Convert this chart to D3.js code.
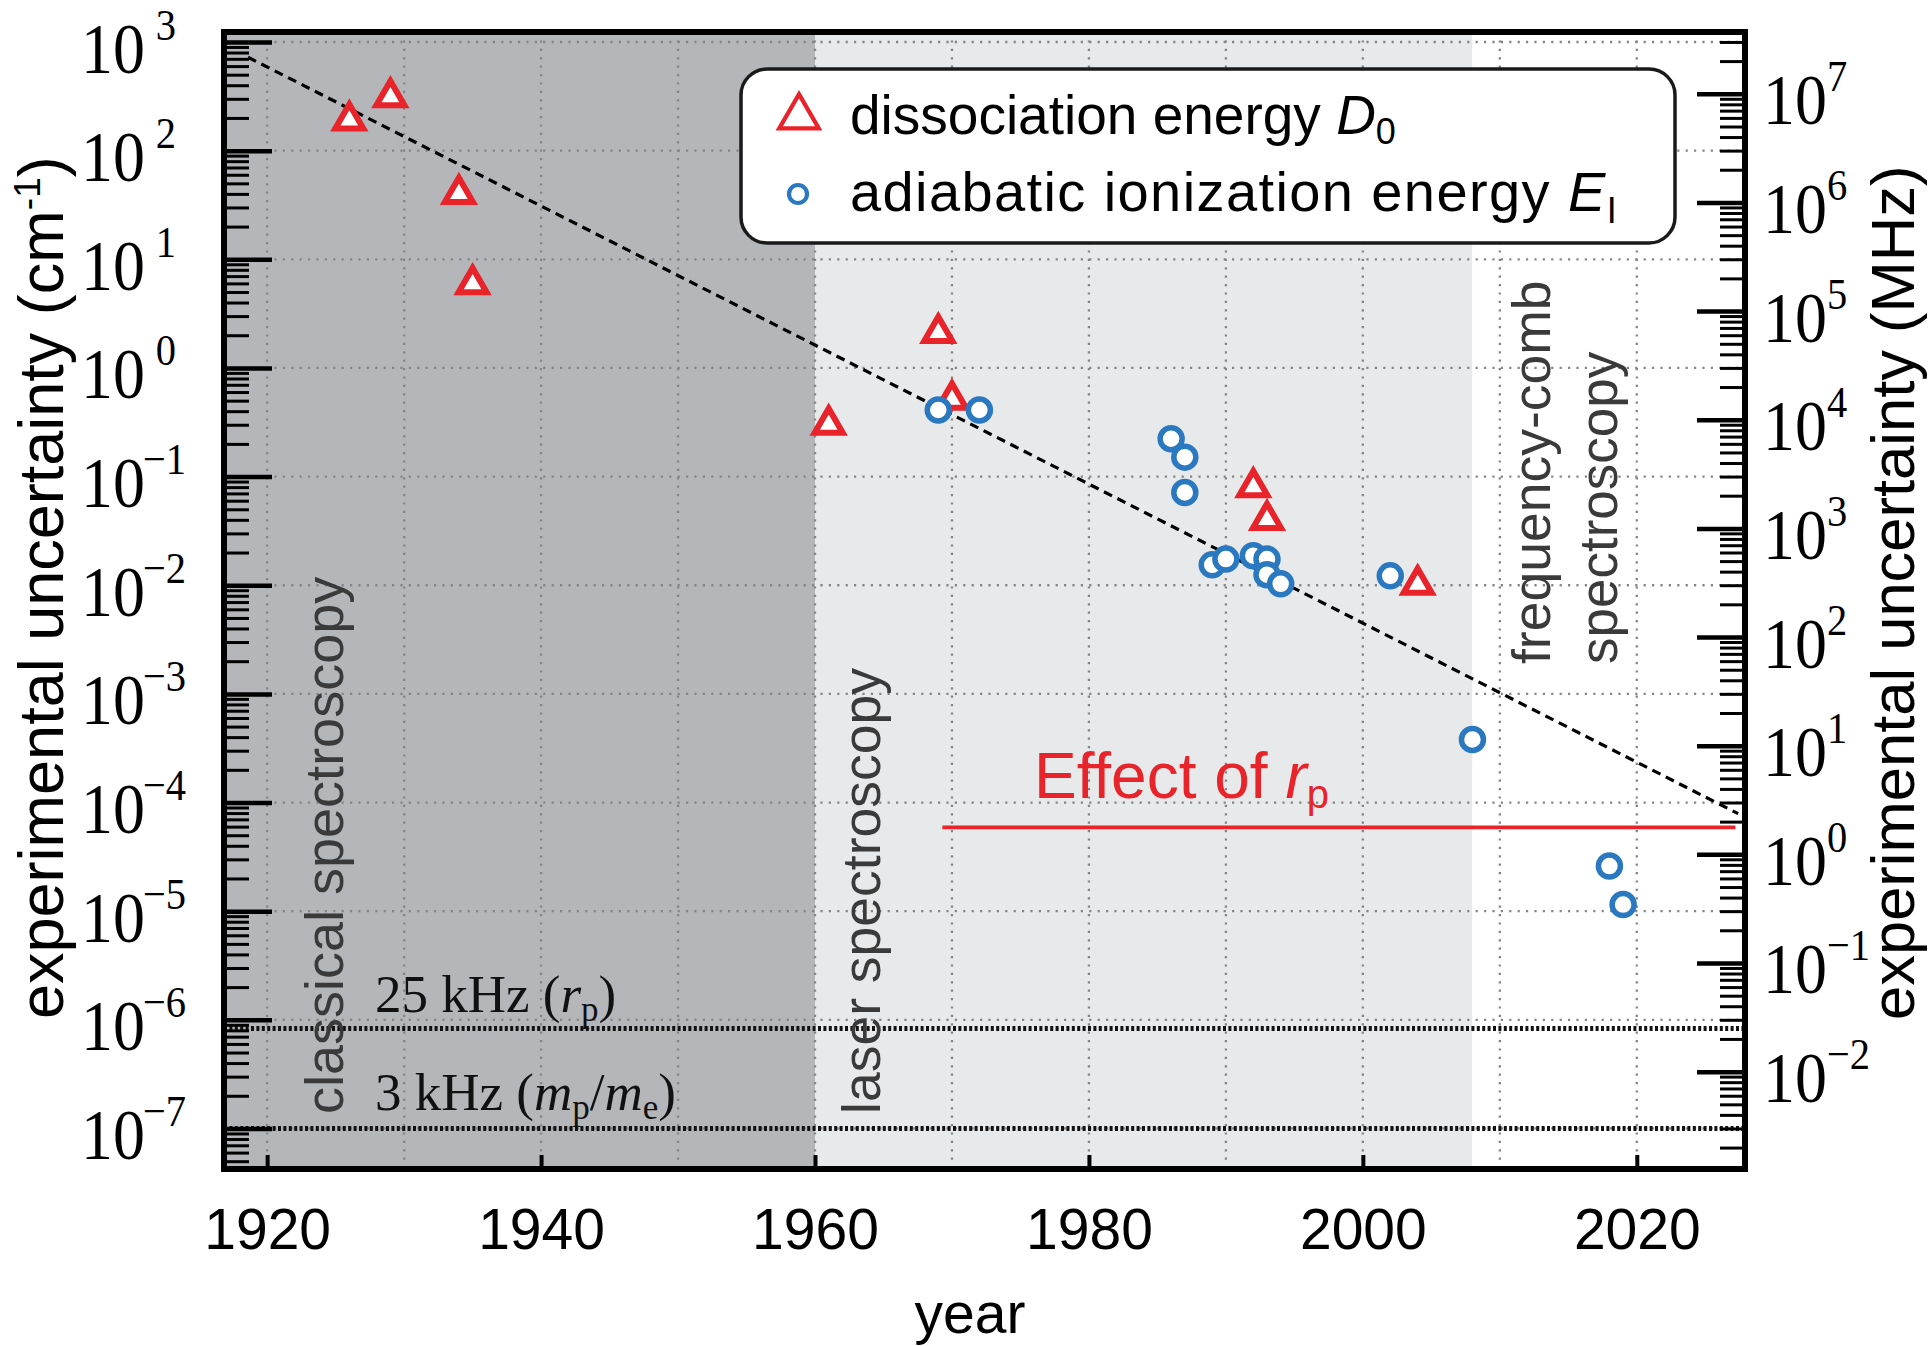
<!DOCTYPE html>
<html>
<head>
<meta charset="utf-8">
<script src="https://cdn.jsdelivr.net/npm/d3@7"></script>
<style>
  body { margin: 0; background: #fff; }
  svg { display: block; }
</style>
</head>
<body>
<svg id="chart" width="1930" height="1346"></svg>
<script>
// ---- data -------------------------------------------------------------
// dissociation energy D0 of H2: year of determination, uncertainty (cm^-1)
const d0Years = [1926, 1929, 1934, 1935, 1961, 1969, 1970, 1992, 1993, 2004];
const d0Unc   = [190, 310, 40, 5.9, 0.30, 2.1, 0.51, 0.080, 0.040, 0.0101];

// adiabatic ionization energy EI of H2: year, uncertainty (cm^-1)
const eiYears = [1969, 1972, 1986, 1987, 1987, 1989, 1990, 1992, 1993, 1993, 1994, 2002, 2008, 2018, 2019];
const eiUnc   = [0.41, 0.41, 0.223, 0.151, 0.0714, 0.0154, 0.0174, 0.0187, 0.0174, 0.0125, 0.0103, 0.0122, 3.8e-4, 2.6e-5, 1.15e-5];

// exponential improvement trend (end points)
const trendYears = [1918.6, 2027.4];
const trendUnc   = [724, 7.9e-5];

// "Effect of r_p" level (cm^-1) and its year span
const rpYears = [1969.3, 2027.2];
const rpUnc   = 5.9e-5;

// reference limits in kHz
const limitKHz    = [25, 3];
const limitLabels = ["25 kHz", "3 kHz"];

// spectroscopy eras
const eraNames  = ["classical", "laser", "comb"];
const eraStarts = [1900, 1960, 2008];
const eraEnds   = [1960, 2008, 2100];
const eraFills  = ["#b5b6b9", "#e8e9eb", "#ffffff"];

// axis ticks
const yearTicks   = [1920, 1940, 1960, 1980, 2000, 2020];
const yearGrid    = [1920, 1930, 1940, 1950, 1960, 1970, 1980, 1990, 2000, 2010, 2020];
const cmExponents  = [-7, -6, -5, -4, -3, -2, -1, 0, 1, 2, 3];
const mhzExponents = [-2, -1, 0, 1, 2, 3, 4, 5, 6, 7];

// ---- setup ------------------------------------------------------------
const CM_TO_MHZ = 29979.2458;
const SANS  = "'Liberation Sans', Arial, Helvetica, sans-serif";
const SERIF = "'Liberation Serif', 'Times New Roman', serif";
const RED  = "#e8232a";
const BLUE = "#2a78c0";
const TXT  = "#3a3a3a";

const plot = { left: 224, right: 1745, top: 32, bottom: 1169 };

const svg = d3.select("#chart");

const x = d3.scaleLinear().domain([1916.85, 2027.9]).range([plot.left, plot.right]);
const y = d3.scaleLog().domain([Math.pow(10, -7.373), Math.pow(10, 3.092)]).range([plot.bottom, plot.top]);
const y2 = d3.scaleLog().domain(y.domain().map(v => v * CM_TO_MHZ)).range([plot.bottom, plot.top]);

svg.append("defs").append("clipPath").attr("id", "plotClip")
  .append("rect")
  .attr("x", plot.left).attr("y", plot.top)
  .attr("width", plot.right - plot.left).attr("height", plot.bottom - plot.top);

const inner = svg.append("g").attr("clip-path", "url(#plotClip)");

// era shading
inner.selectAll("rect.era")
  .data(eraNames.map((n, i) => ({ n, s: eraStarts[i], e: eraEnds[i], f: eraFills[i] })))
  .join("rect")
  .attr("class", "era")
  .attr("x", d => x(d.s))
  .attr("width", d => x(d.e) - x(d.s))
  .attr("y", plot.top).attr("height", plot.bottom - plot.top)
  .attr("fill", d => d.f);

// dotted grid
const gridStyle = g => g.attr("stroke", "#858585").attr("stroke-width", 2.3).attr("stroke-dasharray", "2.2,6.2").attr("fill", "none");
inner.append("g").call(gridStyle)
  .selectAll("line").data(yearGrid).join("line")
  .attr("x1", d => x(d)).attr("x2", d => x(d))
  .attr("y1", plot.top).attr("y2", plot.bottom);
inner.append("g").call(gridStyle)
  .selectAll("line").data(cmExponents.map(e => Math.pow(10, e))).join("line")
  .attr("x1", plot.left).attr("x2", plot.right)
  .attr("y1", d => y(d)).attr("y2", d => y(d));

// kHz limit lines
const limitCm = limitKHz.map(k => k / 1000 / CM_TO_MHZ);
inner.append("g")
  .selectAll("line").data(limitCm).join("line")
  .attr("x1", plot.left).attr("x2", plot.right)
  .attr("y1", d => y(d)).attr("y2", d => y(d))
  .attr("stroke", "#111").attr("stroke-width", 5).attr("stroke-dasharray", "3,2.4");

// trend line
const lineGen = d3.line().x(d => x(d[0])).y(d => y(d[1]));
inner.append("path")
  .datum(trendYears.map((t, i) => [t, trendUnc[i]]))
  .attr("d", lineGen)
  .attr("fill", "none").attr("stroke", "#000").attr("stroke-width", 3.2)
  .attr("stroke-dasharray", "9,6");

// effect of r_p
inner.append("path")
  .datum(rpYears.map(t => [t, rpUnc]))
  .attr("d", lineGen)
  .attr("fill", "none").attr("stroke", RED).attr("stroke-width", 3.7);

// data points
inner.append("g").selectAll("path")
  .data(d0Years.map((t, i) => [t, d0Unc[i]]))
  .join("path")
  .attr("transform", d => `translate(${x(d[0])},${y(d[1])})`)
  .attr("d", d3.symbol(d3.symbolTriangle, 340))
  .attr("fill", "#fff").attr("stroke", RED).attr("stroke-width", 6)
  .attr("stroke-linejoin", "miter");

inner.append("g").selectAll("circle")
  .data(eiYears.map((t, i) => [t, eiUnc[i]]))
  .join("circle")
  .attr("cx", d => x(d[0])).attr("cy", d => y(d[1])).attr("r", 11)
  .attr("fill", "#fff").attr("stroke", BLUE).attr("stroke-width", 5.5);

// ---- axes -------------------------------------------------------------
function minorValues(scale) {
  const [lo, hi] = scale.domain();
  const out = [];
  for (let k = Math.floor(Math.log10(lo)) - 1; k <= Math.ceil(Math.log10(hi)); k++) {
    for (let m = 2; m <= 9; m++) {
      const v = m * Math.pow(10, k);
      if (v >= lo && v <= hi) out.push(v);
    }
  }
  return out;
}
const expText = e => (e < 0 ? "\u2212" + Math.abs(e) : String(e));
const SQ = 0.9;        // horizontal squeeze of the serif power-of-ten labels
const BASE_DY = 30;    // baseline offset of "10" below the tick
const SUP_DY = -33;    // superscript raise

function tidyMajor(g) {
  g.select(".domain").remove();
  g.selectAll(".tick line").attr("stroke", "#000").attr("stroke-width", 4.5);
}
function serifText(sel) {
  return sel.attr("fill", "#000").attr("font-family", SERIF)
    .attr("transform", `scale(${SQ},1)`);
}
// right axis: "10" + exponent flowing left to right
function labelsFlow(g, pad) {
  g.selectAll(".tick text").each(function (d) {
    const t = serifText(d3.select(this));
    const e = Math.round(Math.log10(d));
    t.text(null).attr("font-size", 71).attr("x", pad / SQ).attr("dy", BASE_DY);
    t.append("tspan").text("10");
    t.append("tspan").attr("font-size", 45).attr("dy", SUP_DY).text(expText(e));
  });
}
// left axis: "10" in a fixed column, exponent right-aligned against the axis
function labelsColumn(g, baseStart, expEnd, posShift) {
  g.selectAll(".tick text").each(function (d) {
    const t = serifText(d3.select(this));
    const e = Math.round(Math.log10(d));
    t.text("10").attr("font-size", 71).attr("text-anchor", "start")
      .attr("x", baseStart / SQ).attr("dy", BASE_DY);
    serifText(d3.select(this.parentNode).append("text"))
      .attr("font-size", 45).attr("text-anchor", "end")
      .attr("x", (expEnd - (e >= 0 ? posShift : 0)) / SQ).attr("y", BASE_DY + SUP_DY)
      .text(expText(e));
  });
}
function styleMinor(g) {
  g.select(".domain").remove();
  g.selectAll(".tick line").attr("stroke", "#000").attr("stroke-width", 3);
}

// left axis (cm^-1)
svg.append("g").attr("transform", `translate(${plot.left},0)`)
  .call(d3.axisLeft(y).tickValues(minorValues(y)).tickSize(-25).tickFormat(""))
  .call(styleMinor);
svg.append("g").attr("transform", `translate(${plot.left},0)`)
  .call(d3.axisLeft(y).tickValues(cmExponents.map(e => Math.pow(10, e))).tickSize(-48).tickPadding(38))
  .call(tidyMajor)
  .call(g => labelsColumn(g, -143, -38, 10));

// right axis (MHz)
svg.append("g").attr("transform", `translate(${plot.right},0)`)
  .call(d3.axisRight(y2).tickValues(minorValues(y2)).tickSize(-25).tickFormat(""))
  .call(styleMinor);
svg.append("g").attr("transform", `translate(${plot.right},0)`)
  .call(d3.axisRight(y2).tickValues(mhzExponents.map(e => Math.pow(10, e))).tickSize(-48).tickPadding(18))
  .call(tidyMajor)
  .call(g => labelsFlow(g, 18));

// bottom axis (year)
svg.append("g").attr("transform", `translate(0,${plot.bottom})`)
  .call(d3.axisBottom(x).tickValues(yearTicks).tickSize(-14).tickPadding(40).tickFormat(d3.format("d")))
  .call(g => {
    g.select(".domain").remove();
    g.selectAll(".tick line").attr("stroke", "#000").attr("stroke-width", 4);
    g.selectAll(".tick text").attr("fill", "#000").attr("font-family", SANS).attr("font-size", 57);
  });

// frame
svg.append("rect")
  .attr("x", plot.left).attr("y", plot.top)
  .attr("width", plot.right - plot.left).attr("height", plot.bottom - plot.top)
  .attr("fill", "none").attr("stroke", "#000").attr("stroke-width", 6);

// ---- annotations ------------------------------------------------------
function vText(px, py, str, size, fill) {
  return svg.append("text")
    .attr("transform", `translate(${px},${py}) rotate(-90)`)
    .attr("font-family", SANS).attr("font-size", size).attr("fill", fill)
    .text(str);
}
vText(343, 1114, "classical spectroscopy", 54, TXT);
vText(880, 1114, "laser spectroscopy", 53.5, TXT);
vText(1550, 664, "frequency-comb", 53.5, TXT);
vText(1617, 664, "spectroscopy", 53, TXT);

// limit labels
const lim1 = svg.append("text").attr("x", 375).attr("y", 1012)
  .attr("font-family", SERIF).attr("font-size", 53).attr("fill", "#111");
lim1.append("tspan").text(limitLabels[0] + " (");
lim1.append("tspan").attr("font-style", "italic").text("r");
lim1.append("tspan").attr("font-size", 35).attr("dy", 9).text("p");
lim1.append("tspan").attr("dy", -9).text(")");

const lim2 = svg.append("text").attr("x", 375).attr("y", 1110)
  .attr("font-family", SERIF).attr("font-size", 53).attr("fill", "#111");
lim2.append("tspan").text(limitLabels[1] + " (");
lim2.append("tspan").attr("font-style", "italic").text("m");
lim2.append("tspan").attr("font-size", 35).attr("dy", 9).text("p");
lim2.append("tspan").attr("dy", -9).text("/");
lim2.append("tspan").attr("font-style", "italic").text("m");
lim2.append("tspan").attr("font-size", 35).attr("dy", 9).text("e");
lim2.append("tspan").attr("dy", -9).text(")");

// effect of r_p
const eff = svg.append("text").attr("x", 1034).attr("y", 798)
  .attr("font-family", SANS).attr("font-size", 64).attr("fill", RED);
eff.append("tspan").text("Effect of ");
eff.append("tspan").attr("font-style", "italic").text("r");
eff.append("tspan").attr("font-size", 40).attr("dy", 10).text("p");

// axis titles
const yt = svg.append("text")
  .attr("transform", "translate(63,1019) rotate(-90)")
  .attr("font-family", SANS).attr("font-size", 63).attr("fill", "#000");
yt.append("tspan").text("experimental uncertainty (cm");
yt.append("tspan").attr("font-size", 37).attr("dy", -23).text("-1");
yt.append("tspan").attr("dy", 23).text(")");

svg.append("text")
  .attr("transform", "translate(1914,1020) rotate(-90)")
  .attr("font-family", SANS).attr("font-size", 61.5).attr("fill", "#000")
  .text("experimental uncertainty (MHz)");

svg.append("text")
  .attr("x", 970).attr("y", 1333).attr("text-anchor", "middle")
  .attr("font-family", SANS).attr("font-size", 57).attr("fill", "#000")
  .text("year");

// ---- legend -----------------------------------------------------------
const lg = svg.append("g");
lg.append("rect")
  .attr("x", 741).attr("y", 69).attr("width", 934).attr("height", 174).attr("rx", 26)
  .attr("fill", "#fff").attr("stroke", "#1a1a1a").attr("stroke-width", 3.5);
lg.append("path")
  .attr("transform", "translate(799,117)")
  .attr("d", d3.symbol(d3.symbolTriangle, 680))
  .attr("fill", "#fff").attr("stroke", RED).attr("stroke-width", 4.2);
lg.append("circle")
  .attr("cx", 798).attr("cy", 194).attr("r", 9)
  .attr("fill", "#fff").attr("stroke", BLUE).attr("stroke-width", 4.2);

const l1 = lg.append("text").attr("x", 850).attr("y", 134)
  .attr("font-family", SANS).attr("font-size", 55).attr("fill", "#000");
l1.append("tspan").text("dissociation energy ");
l1.append("tspan").attr("font-style", "italic").text("D");
l1.append("tspan").attr("font-size", 36).attr("dy", 10).text("0");

const l2 = lg.append("text").attr("x", 850).attr("y", 211)
  .attr("font-family", SANS).attr("font-size", 56).attr("letter-spacing", 1.4).attr("fill", "#000");
l2.append("tspan").text("adiabatic ionization energy ");
l2.append("tspan").attr("font-style", "italic").text("E");
l2.append("tspan").attr("font-size", 36).attr("dy", 12).text("I");
</script>
</body>
</html>
